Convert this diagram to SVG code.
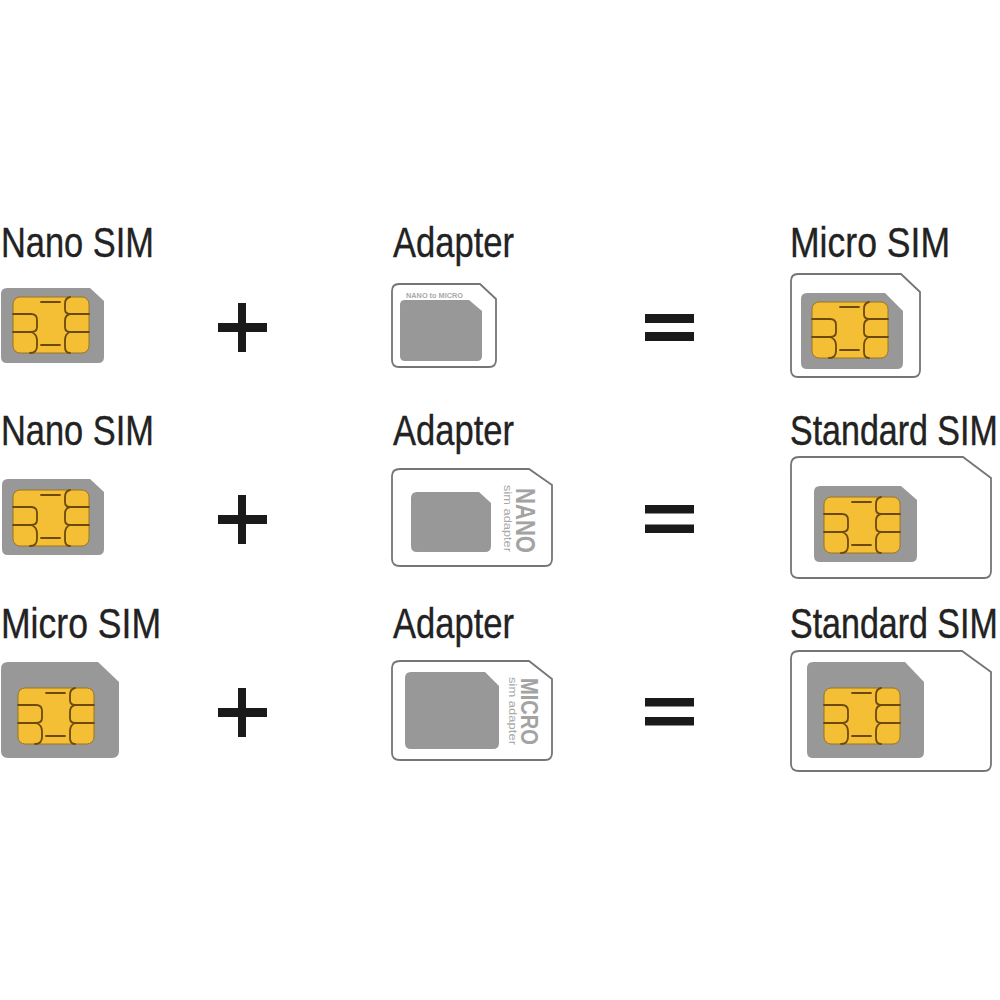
<svg xmlns="http://www.w3.org/2000/svg" xmlns:xlink="http://www.w3.org/1999/xlink" width="1000" height="1000" viewBox="0 0 1000 1000">
<style>
.lbl{font-family:"Liberation Sans",Arial,sans-serif;font-size:42px;fill:#222;stroke:#222;stroke-width:.35px}
.std{font-size:34px}
.card{fill:#999898}
.adapter{fill:#fff;stroke:#757575;stroke-width:1.8}
.op{fill:#1a1a1a}
.big{font-family:"Liberation Sans",Arial,sans-serif;font-weight:bold;fill:#a3a3a3}
.small{font-family:"Liberation Sans",Arial,sans-serif;fill:#a8a8a8}
.cl{fill:none;stroke:#6b4a0c;stroke-width:1.8;stroke-linecap:round}
</style>
<defs>
<g id="chip">
<rect x="0" y="0" width="76" height="56" rx="7" fill="#f5bf35" stroke="#9a7420" stroke-width="1"/>
<path class="cl" d="M0 17H18Q24 17 24 23V30Q24 35 18 35H0M18 35Q24 37 24 43V49Q24 56 17 56M28 5H47M28 48H47M57 0Q52 1 52 7V12Q52 17 57 17H76M57 17Q52 18 52 24V30Q52 35 57 35H76M57 35Q52 37 52 43V50Q52 56 57 56"/>
</g>
</defs>
<rect width="1000" height="1000" fill="#fff"/>
<g id="node-nano-1">
<text class="lbl" x="1" y="257" textLength="153" lengthAdjust="spacingAndGlyphs">Nano SIM</text>
<path class="card" d="M7 288H90L104 301V357Q104 363 98 363H7Q1 363 1 357V294Q1 288 7 288Z"/>
<use xlink:href="#chip" href="#chip" x="13" y="297"/>
</g>
<g id="node-adapter-1">
<text class="lbl" x="393" y="257" textLength="121" lengthAdjust="spacingAndGlyphs">Adapter</text>
<path class="adapter" d="M399 284H480L496 299V360Q496 367 489 367H399Q392 367 392 360V291Q392 284 399 284Z"/>
<text class="small" x="406" y="298" font-size="7.5" font-weight="bold" textLength="57" lengthAdjust="spacingAndGlyphs">NANO to MICRO</text>
<path class="card" d="M405 300H469L482 311V356Q482 361 477 361H405Q400 361 400 356V305Q400 300 405 300Z"/>
</g>
<g id="node-micro-1">
<text class="lbl" x="790" y="257" textLength="160" lengthAdjust="spacingAndGlyphs">Micro SIM</text>
<path class="adapter" d="M798 274H901L920 292V370Q920 377 913 377H798Q791 377 791 370V281Q791 274 798 274Z"/>
<path class="card" d="M807 293H885L903 311V363Q903 369 897 369H807Q801 369 801 363V299Q801 293 807 293Z"/>
<use xlink:href="#chip" href="#chip" x="812" y="302"/>
</g>
<g id="node-nano-2">
<text class="lbl" x="1" y="445" textLength="153" lengthAdjust="spacingAndGlyphs">Nano SIM</text>
<path class="card" d="M8 479H90L104 492V549Q104 555 98 555H8Q2 555 2 549V485Q2 479 8 479Z"/>
<use xlink:href="#chip" href="#chip" x="13" y="490"/>
</g>
<g id="node-adapter-2">
<text class="lbl" x="393" y="445" textLength="121" lengthAdjust="spacingAndGlyphs">Adapter</text>
<path class="adapter" d="M400 469H529L552 485V559Q552 566 545 566H400Q392 566 392 559V476Q392 469 400 469Z"/>
<path class="card" d="M417 492H479L491 503V546Q491 552 485 552H417Q411 552 411 546V498Q411 492 417 492Z"/>
<text class="big" transform="translate(516 488) rotate(90)" font-size="27" textLength="65" lengthAdjust="spacingAndGlyphs">NANO</text>
<text class="small" transform="translate(504 485) rotate(90)" font-size="11" textLength="67" lengthAdjust="spacingAndGlyphs">sim adapter</text>
</g>
<g id="node-standard-2">
<text class="lbl std" transform="translate(790 445) scale(1 1.235)">Standard SIM</text>
<path class="adapter" d="M799 457H963L991 478V571Q991 578 984 578H799Q791 578 791 571V465Q791 457 799 457Z"/>
<path class="card" d="M820 486H901L917 500V556Q917 562 911 562H820Q814 562 814 556V492Q814 486 820 486Z"/>
<use xlink:href="#chip" href="#chip" x="824" y="497"/>
</g>
<g id="node-micro-3">
<text class="lbl" x="1" y="638" textLength="160" lengthAdjust="spacingAndGlyphs">Micro SIM</text>
<path class="card" d="M8 662H98L119 682V751Q119 758 112 758H8Q1 758 1 751V669Q1 662 8 662Z"/>
<use xlink:href="#chip" href="#chip" x="18" y="688"/>
</g>
<g id="node-adapter-3">
<text class="lbl" x="393" y="638" textLength="121" lengthAdjust="spacingAndGlyphs">Adapter</text>
<path class="adapter" d="M400 661H529L552 679V753Q552 760 545 760H400Q392 760 392 753V668Q392 661 400 661Z"/>
<path class="card" d="M411 672H485L499 686V743Q499 749 493 749H411Q405 749 405 743V678Q405 672 411 672Z"/>
<text class="big" transform="translate(521 678) rotate(90)" font-size="23" textLength="67" lengthAdjust="spacingAndGlyphs">MICRO</text>
<text class="small" transform="translate(509 677) rotate(90)" font-size="11" textLength="68" lengthAdjust="spacingAndGlyphs">sim adapter</text>
</g>
<g id="node-standard-3">
<text class="lbl std" transform="translate(790 638) scale(1 1.235)">Standard SIM</text>
<path class="adapter" d="M799 651H962L991 672V764Q991 771 984 771H799Q791 771 791 764V658Q791 651 799 651Z"/>
<path class="card" d="M813 662H905L924 682V752Q924 758 918 758H813Q807 758 807 752V668Q807 662 813 662Z"/>
<use xlink:href="#chip" href="#chip" x="824" y="688"/>
</g>
<g id="connectors">
<path class="op" d="M238 303h8v20h21v9h-21v20h-8v-20h-20v-9h20z"/>
<path class="op" d="M238 495h8v20h21v9h-21v20h-8v-20h-20v-9h20z"/>
<path class="op" d="M238 688h8v20h21v9h-21v20h-8v-20h-20v-9h20z"/>
<path class="op" d="M645 314h49v9h-49zM645 332h49v9h-49z"/>
<path class="op" d="M645 505h49v8.500h-49zM645 524.500h49v8.500h-49z"/>
<path class="op" d="M645 698h49v8.500h-49zM645 717h49v8.500h-49z"/>
</g>
</svg>
